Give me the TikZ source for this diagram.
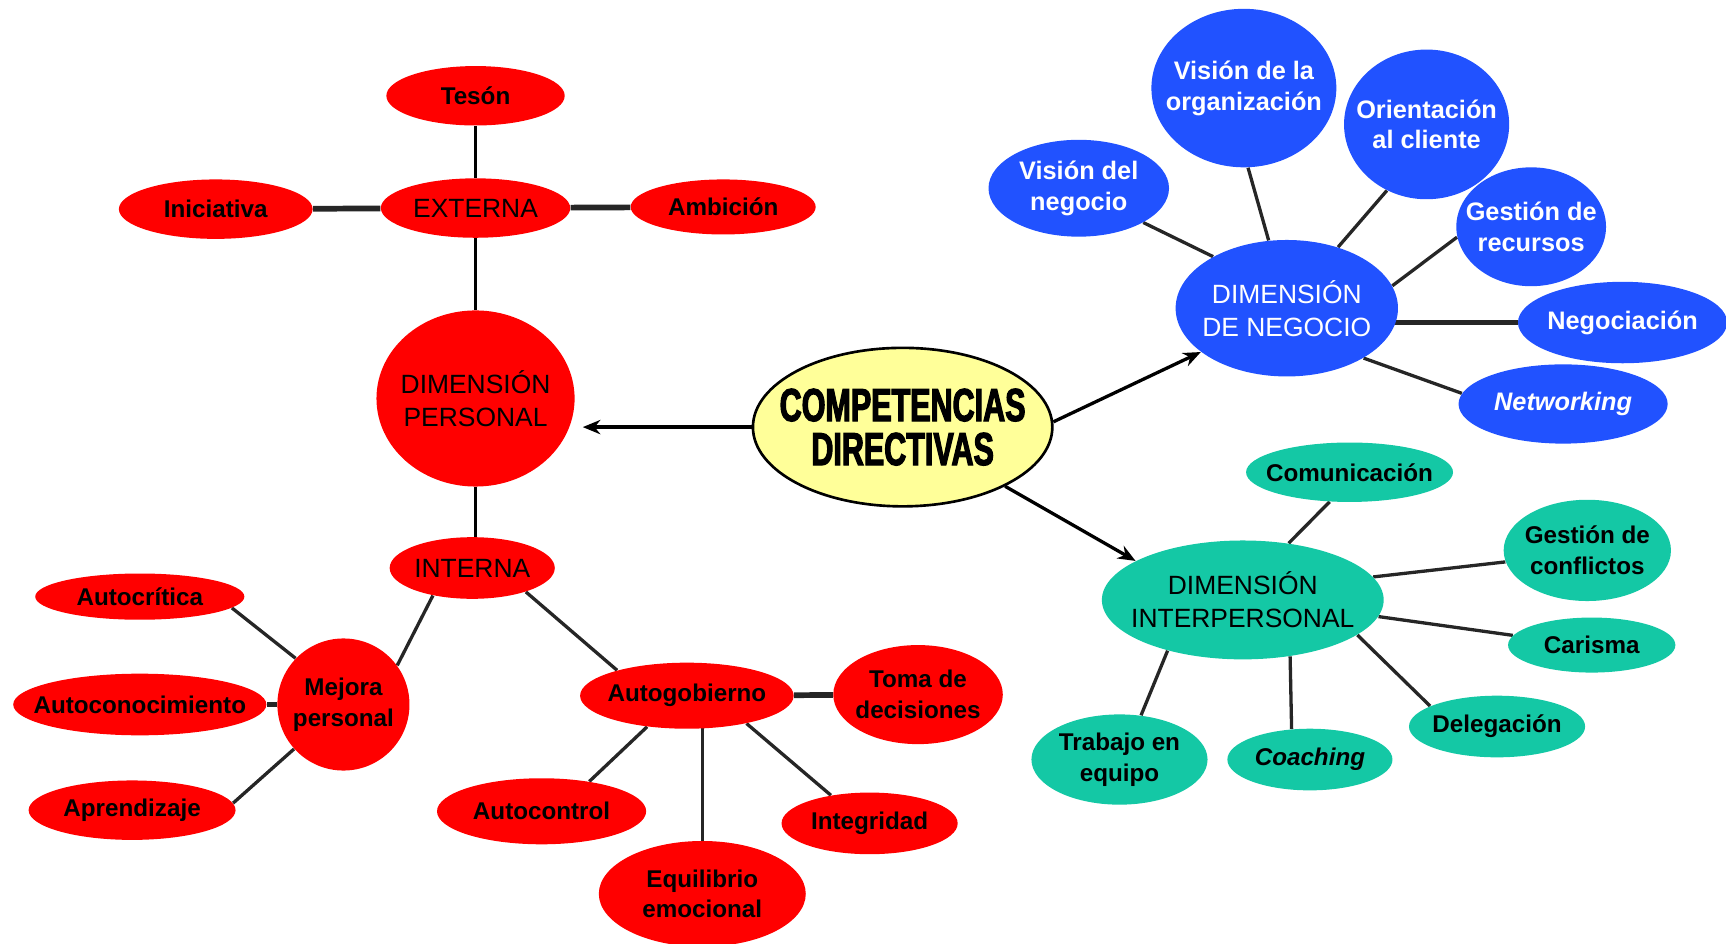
\documentclass[tikz,border=0pt]{standalone}
\usepackage{fontspec}
\setmainfont{Liberation Sans}
\newfontfamily\heavyfont[FakeStretch=0.66,FakeBold=2.5]{Liberation Sans}
\usetikzlibrary{shapes.geometric,arrows.meta,backgrounds}

\definecolor{redfill}{RGB}{255,0,0}
\definecolor{bluefill}{RGB}{33,82,255}
\definecolor{tealfill}{RGB}{20,200,165}
\definecolor{yellowfill}{RGB}{255,255,153}

\tikzset{
  % ellipse with fixed radii (given in units of 0.5pt diameters -> pt radii)
  bub/.style 2 args={ellipse, minimum width=#1pt, minimum height=#2pt,
    inner sep=-80pt, align=center},
  lbl/.style={font=\fontsize{11}{14}\selectfont\bfseries},
  dimfont/.style={font=\fontsize{12}{15}\selectfont},
  rbub/.style 2 args={bub={#1}{#2}, fill=redfill, text=black, lbl},
  bbub/.style 2 args={bub={#1}{#2}, fill=bluefill, text=white,
    font=\fontsize{11.5}{14}\selectfont\bfseries},
  tbub/.style 2 args={bub={#1}{#2}, fill=tealfill, text=black, lbl},
  core/.style={ellipse, minimum width=136pt, minimum height=72pt, inner sep=-80pt,
    fill=yellowfill, draw=black, line width=1.2pt, align=center,
    font=\heavyfont\fontsize{21}{20}\selectfont\bfseries},
  wire/.style={line width=1.5pt, draw=black!85},
  wirethin/.style={line width=1pt, draw=black},
  wirebold/.style={line width=2.6pt, draw=black!85},
  arr/.style={line width=1.5pt, draw=black, -{Stealth[length=8pt,width=6.5pt]}},
}

\begin{document}
\begin{tikzpicture}[x=0.5pt,y=-0.5pt]
\useasboundingbox (0,0) rectangle (1568,857);

% ---------- central node ----------
\node[core] (comp) at (820,388) {COMPETENCIAS\\DIRECTIVAS};

% ---------- personal dimension ----------
\node[rbub={81}{27}] (tes) at (432,87) {Tesón};
\node[rbub={86}{27}, dimfont] (ext) at (432,189) {EXTERNA};
\node[rbub={88}{27}] (ini) at (196,190) {Iniciativa};
\node[rbub={84}{25}] (amb) at (657,188) {Ambición};
\node[rbub={90}{80}, dimfont] (dp) at (432,362) {DIMENSIÓN\\PERSONAL};
\node[rbub={75}{28}, dimfont] (int) at (429,516) {INTERNA};
\node[rbub={95}{21}] (acr) at (127,542) {Autocrítica};
\node[rbub={115}{28}] (aco) at (127,640) {Autoconocimiento};
\node[rbub={94}{27}] (apr) at (120,736) {Aprendizaje};
\node[rbub={60}{60}] (mej) at (312,640) {Mejora\\personal};
\node[rbub={97}{30}] (ag) at (624,632) {Autogobierno};
\node[rbub={77}{45}] (toma) at (834,631) {Toma de\\decisiones};
\node[rbub={95}{30}] (actl) at (492,737) {Autocontrol};
\node[rbub={80}{28}] (integ) at (790,748) {Integridad};
\node[rbub={94}{48}] (eq) at (638,812) {Equilibrio\\emocional};

% ---------- business dimension ----------
\node[bbub={82}{44}] (vn) at (980,171) {Visión del\\negocio};
\node[bbub={84}{72}] (vo) at (1130,80) {Visión de la\\organización};
\node[bbub={75}{68}] (oc) at (1296,113) {Orientación\\al cliente};
\node[bbub={68}{54}] (gr) at (1391,206) {Gestión de\\recursos};
\node[bbub={101}{62}, dimfont] (dn) at (1169,280) {DIMENSIÓN\\DE NEGOCIO};
\node[bbub={95}{37}] (neg) at (1474,293) {Negociación};
\node[bbub={95}{36}] (net) at (1420,367) {\itshape Networking};

% ---------- interpersonal dimension ----------
\node[tbub={94}{27}] (com) at (1226,429) {Comunicación};
\node[tbub={76}{46}] (gc) at (1442,500) {Gestión de\\conflictos};
\node[tbub={128}{54}, dimfont] (di) at (1129,545) {DIMENSIÓN\\INTERPERSONAL};
\node[tbub={76}{25}] (car) at (1446,586) {Carisma};
\node[tbub={80}{28}] (del) at (1360,660) {Delegación};
\node[tbub={80}{41}] (trab) at (1017,690) {Trabajo en\\equipo};
\node[tbub={75}{28}] (coach) at (1190,690) {\itshape Coaching};

% ---------- connectors ----------
\begin{scope}[on background layer]
  % personal
  \draw[wirethin] (tes) -- (ext);
  \draw[wirebold] (ini) -- (ext);
  \draw[wirebold] (ext) -- (amb);
  \draw[wirethin] (ext) -- (dp);
  \draw[wirethin] (dp.south) -- (int.north -| dp.south);
  \draw[wire] (int.215) -- (mej.36);
  \draw[wire] (int.-24) -- (ag.160);
  \draw[wire] (acr.-7) -- (mej.136);
  \draw[wirebold] (aco) -- (mej);
  \draw[wire] (mej.222) -- (apr.4);
  \draw[wirebold] (ag) -- (toma);
  \draw[wire] (ag.218) -- (actl.32);
  \draw[wire] (eq) -- (eq |- ag);
  \draw[wire] (ag.-25) -- (integ.144);
  % business
  \draw[wire] (vn.-28) -- (dn.145);
  \draw[wire] (vo.-87) -- (dn.105);
  \draw[wire] (oc.-121) -- (dn.50);
  \draw[wire] (gr.188) -- (dn.12);
  \draw[wirebold] (neg) -- (neg -| dn);
  \draw[wire] (dn.-33) -- (net.174);
  % interpersonal
  \draw[wire] (com.236) -- (di.51);
  \draw[wire] (di.10) -- (gc.188);
  \draw[wire] (di.-7) -- (car.173);
  \draw[wire] (di.-17) -- (del.163);
  \draw[wire] (di.-50) -- (coach.121);
  \draw[wire] (di.214) -- (trab.64);
\end{scope}

% ---------- arrows from the centre ----------
\draw[arr, shorten >=3.5pt] (comp.west) -- (comp.west -| dp.east);
\draw[arr] (comp.2) -- (dn.207);
\draw[arr] (comp.-30) -- (di.160);
\end{tikzpicture}
\end{document}
